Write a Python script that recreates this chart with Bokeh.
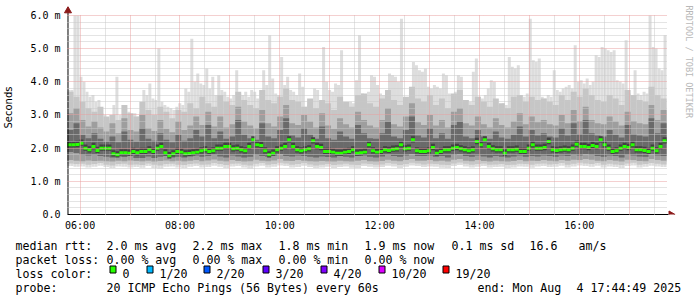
import numpy as np
from bokeh.plotting import figure
from bokeh.models import Range1d, FixedTicker, Grid
from bokeh.layouts import column
from bokeh.core.properties import value
from bokeh.embed import file_html
from bokeh.resources import INLINE

# ---------------- data (ms) ----------------
# median round-trip time, 150 steps over the 12 h window
median_ms = [
    2.10, 2.10, 2.11, 2.15, 2.00, 1.95, 2.05, 1.93, 2.00, 2.00,
    2.00, 1.83, 1.80, 1.86, 1.86, 1.85, 1.90, 1.86, 1.90, 1.90,
    1.95, 1.90, 2.00, 2.05, 1.86, 1.77, 1.83, 1.90, 1.88, 1.83,
    1.84, 1.86, 1.88, 1.92, 1.95, 1.90, 1.92, 2.00, 2.00, 2.05,
    2.05, 1.98, 2.00, 1.95, 1.92, 2.05, 2.25, 2.10, 2.08, 1.92,
    1.80, 1.85, 1.95, 2.00, 2.05, 2.25, 2.05, 1.95, 1.92, 1.95,
    1.98, 2.22, 2.05, 2.02, 1.90, 1.90, 1.88, 1.85, 1.85, 1.88,
    1.90, 1.95, 1.85, 1.86, 1.88, 2.10, 1.92, 1.88, 1.90, 1.95,
    1.93, 1.97, 1.98, 2.10, 1.98, 2.00, 2.25, 1.92, 1.90, 1.90,
    1.92, 2.02, 1.85, 1.90, 1.95, 1.95, 2.00, 2.02, 1.98, 1.95,
    1.92, 1.95, 2.20, 2.10, 2.25, 2.05, 1.98, 1.95, 1.95, 1.85,
    1.95, 1.95, 1.97, 1.90, 1.90, 2.00, 2.10, 2.00, 2.00, 2.02,
    2.20, 1.95, 1.93, 1.95, 1.97, 1.95, 2.00, 2.12, 2.05, 2.05,
    2.02, 2.08, 2.05, 2.25, 2.10, 2.00, 1.90, 1.92, 2.00, 2.05,
    2.02, 2.10, 1.95, 1.95, 1.93, 1.90, 2.00, 1.92, 2.05, 2.22,
]

# slowest ping per step, 200 steps
max_ms = [
    3.75, 3.75, 6.00, 6.00, 4.15, 4.00, 3.70, 3.55, 3.60, 3.40,
    3.45, 3.05, 3.00, 2.90, 2.85, 3.30, 4.15, 3.00, 2.95, 2.85,
    3.10, 3.00, 3.05, 2.95, 3.10, 3.75, 3.60, 3.95, 3.50, 3.45,
    5.00, 3.40, 3.30, 3.25, 3.20, 3.15, 3.25, 3.35, 3.30, 3.80,
    3.70, 5.30, 4.00, 4.25, 3.95, 3.90, 4.40, 3.80, 4.15, 3.60,
    4.20, 3.75, 3.70, 3.55, 3.50, 3.60, 4.35, 3.65, 3.60, 3.70,
    3.55, 3.75, 3.70, 3.50, 3.45, 4.35, 3.90, 5.40, 4.10, 3.65,
    3.60, 4.75, 3.90, 4.15, 3.75, 3.70, 3.60, 4.25, 3.85, 3.25,
    3.30, 3.20, 3.80, 3.75, 3.40, 5.05, 4.00, 3.75, 3.70, 3.95,
    3.90, 4.95, 3.35, 3.30, 3.40, 3.35, 4.05, 5.40, 3.65, 3.60,
    3.70, 4.20, 4.15, 3.90, 3.65, 3.60, 3.70, 4.25, 4.20, 4.15,
    4.00, 5.90, 3.35, 3.30, 3.40, 4.60, 4.50, 4.35, 4.30, 4.40,
    3.85, 3.80, 3.90, 3.85, 3.80, 4.25, 4.20, 3.65, 3.60, 3.70,
    4.20, 4.15, 3.35, 3.30, 3.40, 4.30, 4.70, 3.55, 3.50, 3.60,
    3.80, 4.05, 4.00, 3.30, 3.25, 3.35, 3.30, 4.75, 4.45, 4.40,
    4.50, 3.60, 3.55, 3.65, 5.90, 4.65, 4.60, 4.70, 3.55, 3.50,
    3.60, 3.55, 4.35, 3.75, 3.70, 3.80, 3.85, 3.90, 3.80, 5.10,
    4.00, 4.05, 3.95, 4.10, 3.90, 4.00, 4.80, 4.75, 5.05, 5.00,
    4.95, 4.90, 4.95, 4.05, 4.00, 3.95, 5.25, 3.65, 3.60, 4.35,
    3.65, 3.60, 3.70, 3.65, 6.00, 5.05, 5.00, 4.40, 4.35, 5.40,
]

# ping-spread quantiles, 100 steps each
upper_outer_ms = [
    3.70, 3.55, 3.40, 3.20, 3.10, 3.25, 2.95, 3.00, 2.85, 3.30,
    3.05, 2.95, 3.40, 3.15, 3.00, 3.25, 3.10, 2.90, 3.15, 3.10,
    3.35, 3.20, 3.55, 3.35, 3.25, 3.60, 3.40, 3.30, 3.70, 3.45,
    3.30, 3.20, 3.75, 3.45, 3.35, 3.55, 3.80, 3.45, 3.40, 3.25,
    3.50, 3.20, 3.45, 3.35, 3.15, 3.55, 3.40, 3.25, 3.60, 3.65,
    3.35, 3.25, 3.50, 3.75, 3.45, 3.30, 3.55, 3.85, 3.50, 3.40,
    3.60, 3.30, 3.50, 3.20, 3.65, 3.75, 3.45, 3.30, 3.55, 3.40,
    3.25, 3.50, 3.35, 3.20, 3.55, 3.60, 3.40, 3.55, 3.45, 3.50,
    3.40, 3.30, 3.60, 3.45, 3.70, 3.55, 3.80, 3.60, 3.45, 3.40,
    3.60, 3.50, 3.30, 3.75, 3.60, 3.45, 3.40, 3.85, 3.60, 3.50,
]
upper_mid_ms = [
    3.05, 3.20, 2.85, 2.65, 2.80, 2.62, 2.50, 2.75, 2.45, 2.90,
    2.55, 2.50, 3.00, 2.60, 2.52, 2.85, 2.58, 2.48, 2.80, 2.55,
    2.68, 2.95, 2.70, 3.10, 2.65, 2.95, 2.62, 2.72, 3.25, 2.80,
    2.68, 2.60, 3.15, 2.75, 2.65, 2.95, 3.30, 2.75, 2.70, 3.00,
    2.80, 2.62, 3.05, 2.68, 2.58, 2.90, 2.72, 2.62, 3.10, 2.85,
    2.68, 2.62, 2.85, 3.20, 2.72, 2.65, 2.95, 3.35, 2.78, 2.70,
    3.00, 2.68, 2.85, 2.62, 3.10, 3.20, 2.75, 2.68, 2.95, 2.72,
    2.62, 2.90, 2.70, 2.62, 2.80, 3.05, 2.72, 2.95, 2.78, 2.85,
    2.72, 2.68, 3.00, 2.75, 3.15, 2.82, 3.25, 2.85, 2.75, 2.72,
    2.95, 2.80, 2.68, 3.10, 2.82, 2.75, 2.72, 3.30, 2.85, 3.15,
]
upper_inner_ms = [
    2.55, 2.75, 2.40, 2.30, 2.45, 2.28, 2.20, 2.35, 2.18, 2.50,
    2.25, 2.20, 2.60, 2.28, 2.22, 2.45, 2.25, 2.18, 2.40, 2.22,
    2.30, 2.55, 2.35, 2.70, 2.30, 2.50, 2.28, 2.35, 2.85, 2.40,
    2.30, 2.25, 2.75, 2.35, 2.30, 2.55, 2.90, 2.38, 2.32, 2.60,
    2.40, 2.28, 2.65, 2.30, 2.25, 2.50, 2.35, 2.28, 2.70, 2.45,
    2.30, 2.28, 2.45, 2.80, 2.35, 2.30, 2.55, 2.95, 2.38, 2.32,
    2.60, 2.30, 2.45, 2.28, 2.70, 2.80, 2.35, 2.30, 2.55, 2.35,
    2.28, 2.50, 2.32, 2.28, 2.40, 2.65, 2.35, 2.55, 2.38, 2.45,
    2.35, 2.32, 2.60, 2.38, 2.75, 2.42, 2.85, 2.45, 2.38, 2.35,
    2.55, 2.40, 2.32, 2.70, 2.42, 2.38, 2.35, 2.90, 2.45, 2.75,
]
lower_inner_ms = [
    1.88, 1.85, 1.80, 1.78, 1.80, 1.76, 1.74, 1.72, 1.75, 1.73,
    1.76, 1.70, 1.70, 1.75, 1.70, 1.74, 1.76, 1.72, 1.74, 1.72,
    1.75, 1.78, 1.74, 1.76, 1.80, 1.75, 1.72, 1.78, 1.75, 1.72,
    1.74, 1.80, 1.76, 1.74, 1.78, 1.82, 1.76, 1.75, 1.78, 1.76,
    1.74, 1.72, 1.75, 1.73, 1.72, 1.76, 1.74, 1.72, 1.76, 1.78,
    1.74, 1.72, 1.75, 1.80, 1.76, 1.74, 1.78, 1.82, 1.76, 1.76,
    1.78, 1.74, 1.76, 1.72, 1.80, 1.82, 1.76, 1.74, 1.78, 1.75,
    1.72, 1.76, 1.74, 1.72, 1.75, 1.78, 1.74, 1.76, 1.75, 1.78,
    1.76, 1.74, 1.78, 1.76, 1.80, 1.78, 1.82, 1.80, 1.76, 1.74,
    1.78, 1.76, 1.72, 1.80, 1.78, 1.75, 1.74, 1.82, 1.78, 1.76,
]
lower_mid_ms = [
    1.64, 1.62, 1.60, 1.63, 1.61, 1.62, 1.60, 1.58, 1.62, 1.60,
    1.63, 1.61, 1.59, 1.62, 1.58, 1.61, 1.63, 1.60, 1.62, 1.59,
    1.62, 1.64, 1.60, 1.63, 1.66, 1.62, 1.59, 1.64, 1.61, 1.58,
    1.60, 1.65, 1.62, 1.60, 1.63, 1.67, 1.62, 1.61, 1.64, 1.62,
    1.60, 1.58, 1.61, 1.59, 1.58, 1.62, 1.60, 1.58, 1.62, 1.64,
    1.60, 1.58, 1.61, 1.65, 1.62, 1.60, 1.64, 1.67, 1.62, 1.62,
    1.64, 1.60, 1.62, 1.58, 1.65, 1.67, 1.62, 1.60, 1.64, 1.61,
    1.58, 1.62, 1.60, 1.58, 1.61, 1.64, 1.60, 1.62, 1.61, 1.64,
    1.62, 1.60, 1.64, 1.62, 1.65, 1.64, 1.67, 1.65, 1.62, 1.60,
    1.64, 1.62, 1.58, 1.65, 1.64, 1.61, 1.60, 1.67, 1.64, 1.62,
]
lower_outer_ms = [
    1.54, 1.52, 1.53, 1.50, 1.52, 1.55, 1.50, 1.48, 1.52, 1.53,
    1.50, 1.51, 1.49, 1.54, 1.50, 1.48, 1.52, 1.53, 1.50, 1.49,
    1.52, 1.54, 1.50, 1.51, 1.55, 1.52, 1.49, 1.53, 1.54, 1.50,
    1.48, 1.53, 1.55, 1.50, 1.52, 1.56, 1.54, 1.50, 1.52, 1.55,
    1.51, 1.48, 1.50, 1.52, 1.49, 1.51, 1.53, 1.50, 1.49, 1.54,
    1.52, 1.50, 1.51, 1.55, 1.53, 1.49, 1.52, 1.56, 1.54, 1.51,
    1.53, 1.52, 1.50, 1.49, 1.54, 1.57, 1.53, 1.50, 1.52, 1.54,
    1.50, 1.51, 1.52, 1.49, 1.50, 1.53, 1.52, 1.50, 1.53, 1.54,
    1.51, 1.52, 1.55, 1.50, 1.53, 1.56, 1.54, 1.52, 1.55, 1.50,
    1.53, 1.51, 1.49, 1.54, 1.56, 1.50, 1.52, 1.55, 1.53, 1.51,
]
min_ms = [
    1.46, 1.44, 1.45, 1.42, 1.44, 1.47, 1.43, 1.40, 1.45, 1.44,
    1.42, 1.43, 1.41, 1.46, 1.40, 1.39, 1.44, 1.45, 1.42, 1.40,
    1.44, 1.46, 1.42, 1.43, 1.47, 1.44, 1.40, 1.45, 1.46, 1.42,
    1.39, 1.45, 1.47, 1.42, 1.44, 1.48, 1.46, 1.42, 1.43, 1.47,
    1.43, 1.40, 1.42, 1.44, 1.40, 1.43, 1.45, 1.41, 1.40, 1.46,
    1.44, 1.42, 1.43, 1.47, 1.45, 1.40, 1.44, 1.48, 1.46, 1.43,
    1.45, 1.44, 1.41, 1.40, 1.46, 1.49, 1.45, 1.42, 1.44, 1.46,
    1.42, 1.43, 1.44, 1.40, 1.42, 1.45, 1.44, 1.41, 1.45, 1.46,
    1.43, 1.44, 1.47, 1.42, 1.45, 1.48, 1.46, 1.44, 1.47, 1.42,
    1.45, 1.43, 1.40, 1.46, 1.48, 1.42, 1.44, 1.47, 1.45, 1.43,
]

x_tick_hours = [6, 8, 10, 12, 14, 16]
x_tick_labels = ["06:00", "08:00", "10:00", "12:00", "14:00", "16:00"]
y_ticks = [0, 1, 2, 3, 4, 5, 6]
y_tick_labels = ["0.0", "1.0 m", "2.0 m", "3.0 m", "4.0 m", "5.0 m", "6.0 m"]

rtt_texts = ["median rtt:", "2.0 ms avg", "2.2 ms max", "1.8 ms min",
             "1.9 ms now", "0.1 ms sd", "16.6", "am/s"]
loss_texts = ["packet loss:", "0.00 % avg", "0.00 % max", "0.00 % min", "0.00 % now"]
loss_title = "loss color:"
loss_labels = ["0", "1/20", "2/20", "3/20", "4/20", "10/20", "19/20"]
loss_colors = ["#26ff00", "#00b8ff", "#0059ff", "#5e00ff", "#7e00ff", "#dd00ff", "#ff0000"]
probe_texts = ["probe:", "20 ICMP Echo Pings (56 Bytes) every 60s", "end: Mon Aug", "4 17:44:49 2025"]
watermark = "RRDTOOL / TOBI OETIKER"

# ---------------- layout / style ----------------
T_END = 17 + 44 / 60 + 49 / 3600
T0 = T_END - 12.0
PX_H = 50.0          # pixels per hour
PX_MS = 200.0 / 6.0  # pixels per ms
FRAME_LEFT = 60
AXIS_X = 66
W = 697
H1 = 233
MONO = "DejaVu Sans Mono"

x_start = T0 - (AXIS_X - FRAME_LEFT) / PX_H
x_end = x_start + (W - FRAME_LEFT) / PX_H
y_end = 215 / PX_MS

p = figure(width=W, height=H1, x_range=Range1d(x_start, x_end), y_range=Range1d(0, y_end),
           output_backend="svg", toolbar_location=None,
           min_border_left=FRAME_LEFT, min_border_right=0, min_border_top=0, min_border_bottom=18)
p.outline_line_color = None
p.background_fill_color = "white"
p.border_fill_color = "white"
p.grid.visible = False
p.frame_align = False


def bins(n):
    e = T0 + 12.0 * np.arange(n + 1) / n
    return e[:-1], e[1:]


l100, r100 = bins(len(min_ms))
l200, r200 = bins(len(max_ms))
l150, r150 = bins(len(median_ms))

# smoke bands, outer (light) to inner (dark)
p.quad(left=l200, right=r200, bottom=np.repeat(min_ms, 2), top=max_ms,
       fill_color="#dddddd", line_color=None)
p.quad(left=l100, right=r100, bottom=lower_outer_ms, top=upper_outer_ms,
       fill_color="#c6c6c6", line_color=None)
p.quad(left=l100, right=r100, bottom=lower_mid_ms, top=upper_mid_ms,
       fill_color="#9e9e9e", line_color=None)
p.quad(left=l100, right=r100, bottom=lower_inner_ms, top=upper_inner_ms,
       fill_color="#6a6a6a", line_color=None)
med = np.array(median_ms)
p.quad(left=l150, right=r150, bottom=med - 0.08, top=med + 0.11,
       fill_color="#424242", line_color=None)
# median, coloured by loss (0 loss)
p.quad(left=l150, right=r150, bottom=med - 0.045, top=med + 0.045,
       fill_color=loss_colors[0], line_color=None)

# grids (drawn over the data, like rrdtool)
minor_x = [h + 0.5 for h in range(6, 18)]
major_x = list(range(6, 18))
minor_y = [round(i * 0.2, 1) for i in range(1, 30) if i % 5]
major_y = [1, 2, 3, 4, 5, 6]
for dim, ticks, col, cross in [
    (0, minor_x, "#c8c8c8", (0, 6.0)),
    (1, minor_y, "#c8c8c8", (T0, T_END)),
    (0, major_x, "#e8a0a0", (0, 6.0)),
    (1, major_y, "#e8a0a0", (T0, T_END)),
]:
    g = Grid(dimension=dim, ticker=FixedTicker(ticks=ticks), grid_line_color=col,
             grid_line_dash="1 1", grid_line_width=1, cross_bounds=cross, level="overlay")
    p.add_layout(g)

# axes
xa = p.xaxis[0]
xa.ticker = FixedTicker(ticks=x_tick_hours)
xa.major_label_overrides = dict(zip(x_tick_hours, x_tick_labels))
xa.major_tick_line_color = None
xa.minor_tick_line_color = None
xa.major_tick_out = 0
xa.major_tick_in = 0
xa.axis_line_color = "#000000"
xa.bounds = (T0, T0 + 602 / PX_H)
xa.major_label_text_font = MONO
xa.major_label_text_font_size = "10px"
xa.major_label_text_color = "#000000"
xa.major_label_standoff = 5

ya = p.yaxis[0]
ya.ticker = FixedTicker(ticks=y_ticks)
ya.major_label_overrides = dict(zip(y_ticks, y_tick_labels))
ya.major_tick_line_color = None
ya.minor_tick_line_color = None
ya.major_tick_out = 0
ya.major_tick_in = 0
ya.axis_line_color = None
ya.major_label_text_font = MONO
ya.major_label_text_font_size = "10px"
ya.major_label_text_color = "#000000"
ya.major_label_standoff = 1
ya.axis_label = "Seconds"
ya.axis_label_text_font = "DejaVu Sans"
ya.axis_label_text_font_size = "10px"
ya.axis_label_text_font_style = "normal"
ya.axis_label_text_color = "#000000"
ya.axis_label_standoff = 13

# y axis line + arrow heads
y_axis_x = T0 + 0.5 / PX_H
p.segment(x0=[y_axis_x], y0=[0], x1=[y_axis_x], y1=[6.1], line_color="#000000", line_width=1)
p.scatter(x=[y_axis_x], y=[6.14], marker="triangle", size=7,
          fill_color="#8b1a1a", line_color="#8b1a1a")
p.scatter(x=[T0 + 604.5 / PX_H], y=[0], marker="triangle", size=7, angle=-np.pi / 2,
          fill_color="#8b1a1a", line_color="#8b1a1a")

# watermark
p.text(x=[x_start + (688 - FRAME_LEFT) / PX_H], y=[(215 - 5) / PX_MS], text=[watermark],
       angle=-np.pi / 2, text_align="left", text_baseline="middle",
       text_font=value(MONO), text_font_size=value("8.5px"), text_color="#b8b8b8")

# ---------------- legend area ----------------
H2 = 297 - H1
q = figure(width=W, height=H2, x_range=Range1d(0, W), y_range=Range1d(297, H1),
           output_backend="svg", toolbar_location=None,
           min_border_left=0, min_border_right=0, min_border_top=0, min_border_bottom=0,
           x_axis_location=None, y_axis_location=None)
q.outline_line_color = None
q.grid.visible = False
q.background_fill_color = "white"
q.border_fill_color = "white"
q.frame_align = False

row_y = [245, 259, 273, 287]
rtt_x = [15, 106, 192, 278, 364, 451, 529, 578]
loss_x = [15, 106, 192, 278, 364]
box_x = [109, 146, 203, 262, 320, 378, 442]
probe_x = [15, 106, 477, 576]

tx, ty, tt = [], [], []
for xs, texts, yy in [(rtt_x, rtt_texts, row_y[0]), (loss_x, loss_texts, row_y[1]),
                      ([15], [loss_title], row_y[2]), (probe_x, probe_texts, row_y[3])]:
    tx += xs
    ty += [yy] * len(xs)
    tt += texts
tx += [b + 13 for b in box_x]
ty += [row_y[2]] * len(box_x)
tt += loss_labels

q.text(x=tx, y=ty, text=tt, text_font=value(MONO), text_font_size=value("11.6px"),
       text_baseline="alphabetic", text_align="left", text_color="#000000")
q.quad(left=[b + 0.5 for b in box_x], right=[b + 6.5 for b in box_x],
       top=[row_y[2] - 7.5] * len(box_x), bottom=[row_y[2] - 0.5] * len(box_x),
       fill_color=loss_colors, line_color="#000000", line_width=1)

layout = column(p, q, spacing=0)
open("out.html", "w").write(file_html(layout, INLINE))
